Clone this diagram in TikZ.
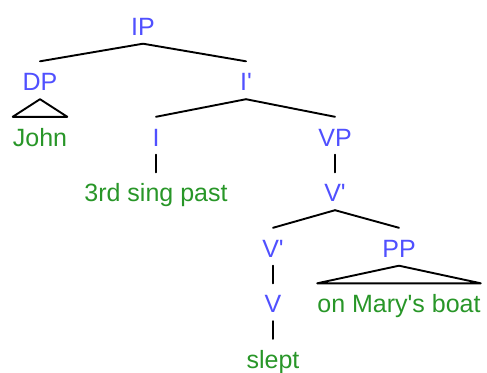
\documentclass[tikz,border=0pt]{standalone}
\usepackage{fontspec}
\setmainfont{Liberation Sans}
\definecolor{catblue}{RGB}{80,80,255}
\definecolor{leafgreen}{RGB}{40,150,40}
\tikzset{
  treenode/.style={anchor=base, inner sep=0pt, text height=29pt, text depth=8.5pt,
    font=\fontsize{25}{29}\selectfont},
  cat/.style={treenode, text=catblue},
  leaf/.style={treenode, text=leafgreen},
  branch/.style={draw=black, line width=1.9pt, line cap=round, line join=round}
}
\begin{document}
\begin{tikzpicture}[x=1pt, y=-1pt]
  \useasboundingbox (0,0) rectangle (487,372);
  % category labels
  \node[cat] (IP)   at (143,35)    {IP};
  \node[cat] (DP)   at (40,90.5)   {DP};
  \node[cat] (Ibar) at (246,90.5)  {I\textquotesingle};
  \node[cat] (I)    at (156,146)   {I};
  \node[cat] (VP)   at (335,146)   {VP};
  \node[cat] (Vbar) at (335,201.5) {V\textquotesingle};
  \node[cat] (Vbarlow) at (273,257) {V\textquotesingle};
  \node[cat] (PP)   at (399,257)   {PP};
  \node[cat] (V)    at (273,312.5) {V};
  % words
  \node[leaf] (John)  at (40,146)    {John};
  \node[leaf] (infl)  at (156,201.5) {3rd sing past};
  \node[leaf] (boat)  at (399,312.5) {on Mary\textquotesingle s boat};
  \node[leaf] (slept) at (273,368)   {slept};
  % branches
  \draw[branch] (IP.south) -- (DP.north);
  \draw[branch] (IP.south) -- (Ibar.north);
  \draw[branch] (Ibar.south) -- (I.north);
  \draw[branch] (Ibar.south) -- (VP.north);
  \draw[branch] (I.south) -- (infl.north);
  \draw[branch] (VP.south) -- (Vbar.north);
  \draw[branch] (Vbar.south) -- (Vbarlow.north);
  \draw[branch] (Vbar.south) -- (PP.north);
  \draw[branch] (Vbarlow.south) -- (V.north);
  \draw[branch] (V.south) -- (slept.north);
  % roofs over unanalysed phrases
  \draw[branch] (DP.south) -- (John.north west) -- (John.north east) -- cycle;
  \draw[branch] (PP.south) -- (boat.north west) -- (boat.north east) -- cycle;
\end{tikzpicture}
\end{document}
